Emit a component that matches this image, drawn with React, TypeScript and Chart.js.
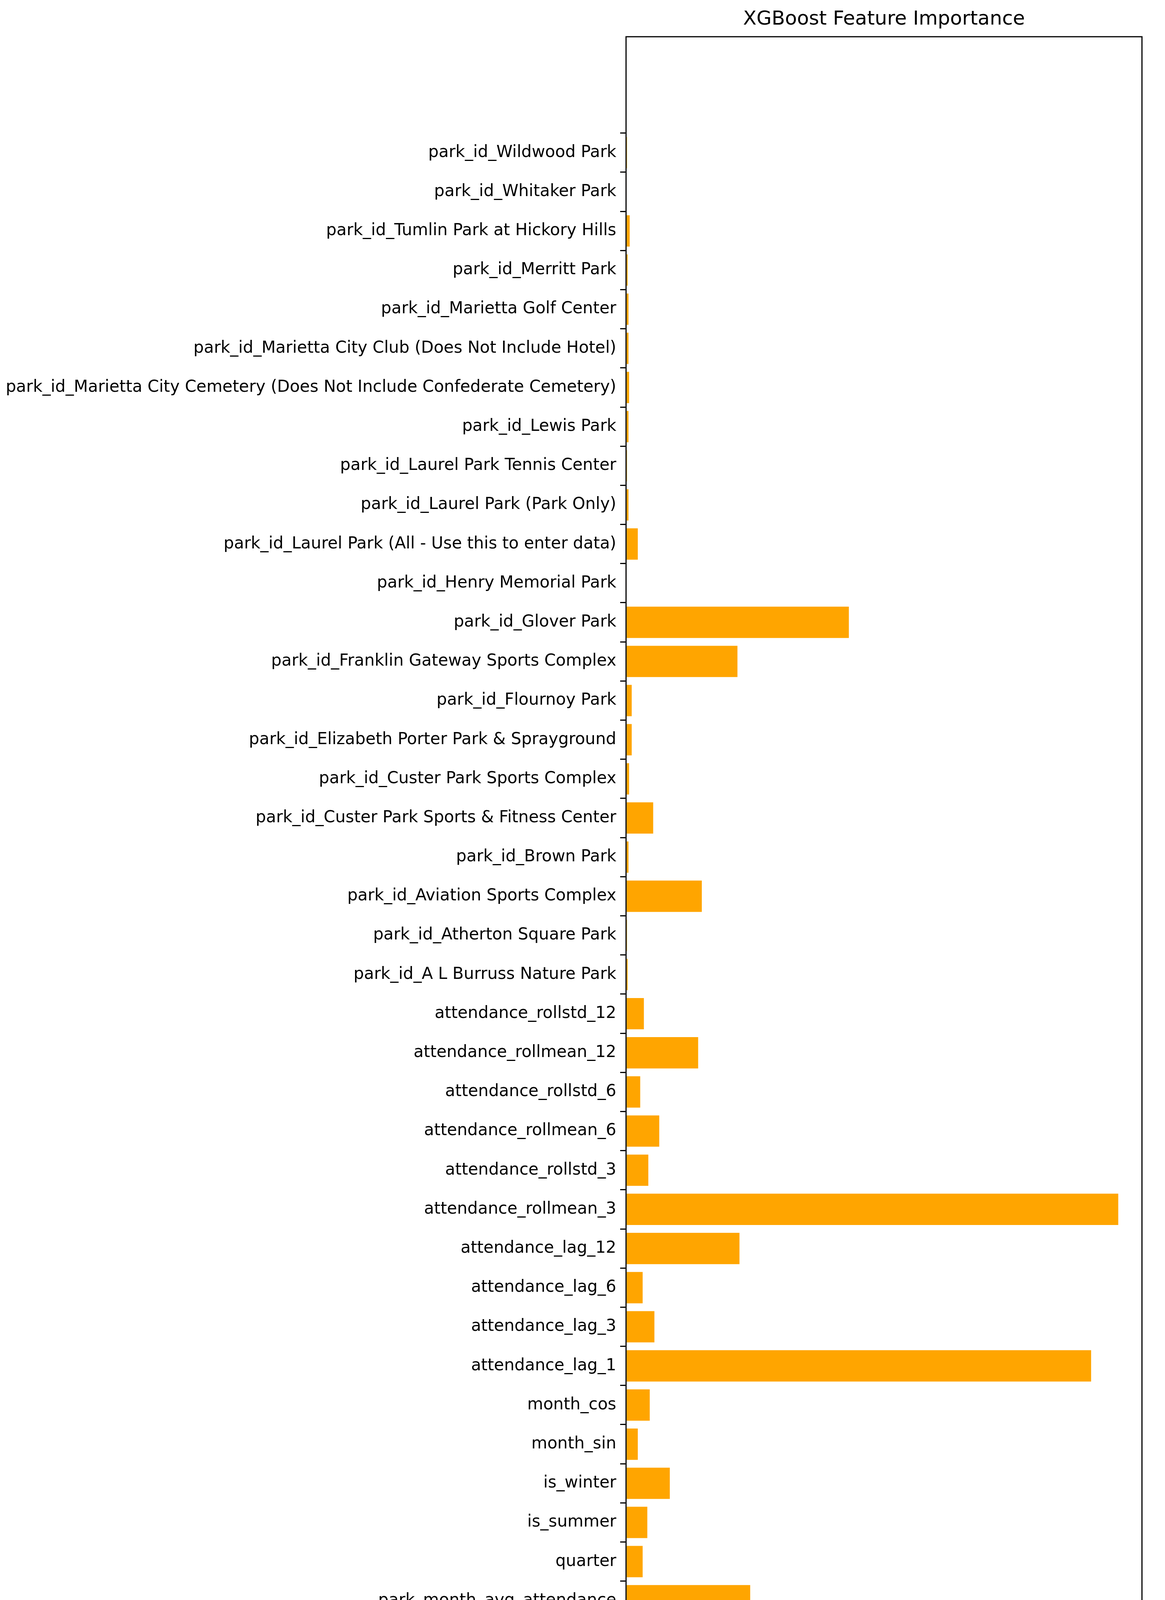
import React, { useEffect, useRef } from 'react';
import Chart from 'chart.js/auto';

const features: string[] = [
  'year', 'month', 'park_month_avg_attendance', 'quarter', 'is_summer', 'is_winter', 'month_sin', 'month_cos',
  'attendance_lag_1', 'attendance_lag_3', 'attendance_lag_6', 'attendance_lag_12',
  'attendance_rollmean_3', 'attendance_rollstd_3', 'attendance_rollmean_6', 'attendance_rollstd_6',
  'attendance_rollmean_12', 'attendance_rollstd_12',
  'park_id_A L Burruss Nature Park', 'park_id_Atherton Square Park', 'park_id_Aviation Sports Complex',
  'park_id_Brown Park', 'park_id_Custer Park Sports & Fitness Center', 'park_id_Custer Park Sports Complex',
  'park_id_Elizabeth Porter Park & Sprayground', 'park_id_Flournoy Park', 'park_id_Franklin Gateway Sports Complex',
  'park_id_Glover Park', 'park_id_Henry Memorial Park', 'park_id_Laurel Park (All - Use this to enter data)',
  'park_id_Laurel Park (Park Only)', 'park_id_Laurel Park Tennis Center', 'park_id_Lewis Park',
  'park_id_Marietta City Cemetery (Does Not Include Confederate Cemetery)',
  'park_id_Marietta City Club (Does Not Include Hotel)', 'park_id_Marietta Golf Center', 'park_id_Merritt Park',
  'park_id_Tumlin Park at Hickory Hills', 'park_id_Whitaker Park', 'park_id_Wildwood Park',
];

const importance: number[] = [
  0.0052, 0.0047, 0.0613, 0.0082, 0.0105, 0.0216, 0.0058, 0.0117,
  0.2296, 0.014, 0.0082, 0.056,
  0.243, 0.011, 0.0164, 0.007,
  0.0356, 0.0088,
  0.0008, 0.0005, 0.0374,
  0.0012, 0.0134, 0.0015,
  0.0028, 0.0028, 0.055,
  0.11, 0.0003, 0.0058,
  0.0012, 0.0005, 0.0012,
  0.0015,
  0.0012, 0.0012, 0.0008,
  0.0018, 0.0003, 0.0005,
];

const xTicks: number[] = [0, 0.05, 0.1, 0.15, 0.2, 0.25];

const W = 2983;
const H = 4766;
const FONT = "'DejaVu Sans', sans-serif";

const App: React.FC = () => {
  const canvasRef = useRef<HTMLCanvasElement>(null);

  useEffect(() => {
    document.body.style.margin = '0';
    const ctx = canvasRef.current?.getContext('2d');
    if (!ctx) return;

    // axes frame + title drawn by hand, like matplotlib
    const frame = {
      id: 'frame',
      afterDraw(chart: any) {
        const { left, right, top, bottom } = chart.chartArea;
        const c = chart.ctx;
        c.save();
        c.strokeStyle = '#000';
        c.lineWidth = 3;
        c.strokeRect(left, top, right - left, bottom - top);
        c.fillStyle = '#000';
        c.font = `50px ${FONT}`;
        c.textAlign = 'center';
        c.textBaseline = 'middle';
        c.fillText('XGBoost Feature Importance', (left + right) / 2, 50);
        c.restore();
      },
    };

    const chart = new Chart(ctx, {
      type: 'bar',
      data: {
        datasets: [
          {
            data: importance.map((v, i) => ({ x: v, y: i })),
            backgroundColor: '#FFA500',
            barPercentage: 0.8,
            categoryPercentage: 1,
          },
        ],
      },
      options: {
        indexAxis: 'y',
        responsive: false,
        devicePixelRatio: 1,
        animation: false,
        layout: { padding: { top: 94, right: 59, left: 0, bottom: 0 } },
        plugins: { legend: { display: false }, tooltip: { enabled: false }, title: { display: false } },
        scales: {
          x: {
            type: 'linear',
            min: 0,
            max: 0.2547,
            afterBuildTicks: (s: any) => { s.ticks = xTicks.map((v) => ({ value: v })); },
            afterFit: (s: any) => { s.height = H - 4600; },
            ticks: { color: '#000', font: { family: FONT, size: 42 }, padding: 8, callback: (v: any) => Number(v).toFixed(2) },
            grid: { drawOnChartArea: false, drawTicks: true, tickLength: 15, color: '#000', lineWidth: 3 },
            border: { display: false },
            title: { display: true, text: 'Importance', color: '#000', font: { family: FONT, size: 42 }, padding: { top: 4 } },
          },
          y: {
            type: 'linear',
            min: -2.45,
            max: 41.4,
            afterBuildTicks: (s: any) => { s.ticks = features.map((_, i) => ({ value: i })); },
            afterFit: (s: any) => { s.width = 1603; },
            ticks: { color: '#000', font: { family: FONT, size: 42 }, padding: 10, autoSkip: false, callback: (v: any) => features[v] },
            grid: { drawOnChartArea: false, drawTicks: true, tickLength: 15, color: '#000', lineWidth: 3 },
            border: { display: false },
          },
        },
      },
      plugins: [frame],
    });

    return () => chart.destroy();
  }, []);

  return <canvas ref={canvasRef} width={W} height={H} style={{ display: 'block', width: W, height: H }} />;
};

export default App;
